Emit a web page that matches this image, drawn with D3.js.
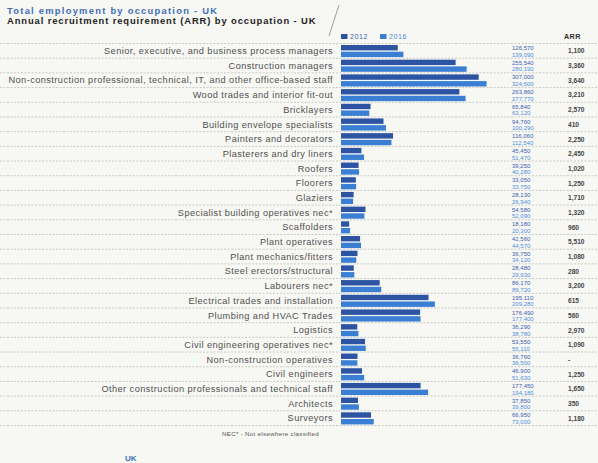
<!DOCTYPE html>
<html><head><meta charset="utf-8">
<script src="https://cdn.jsdelivr.net/npm/d3@7"></script>
<style>body{margin:0;background:#f7f7f4;} svg{display:block;font-family:"Liberation Sans",Arial,sans-serif;}</style>
</head><body>
<svg id="c" width="598" height="463"></svg>
<script>
const categories = [
  "Senior, executive, and business process managers",
  "Construction managers",
  "Non-construction professional, technical, IT, and other office-based staff",
  "Wood trades and interior fit-out",
  "Bricklayers",
  "Building envelope specialists",
  "Painters and decorators",
  "Plasterers and dry liners",
  "Roofers",
  "Floorers",
  "Glaziers",
  "Specialist building operatives nec*",
  "Scaffolders",
  "Plant operatives",
  "Plant mechanics/fitters",
  "Steel erectors/structural",
  "Labourers nec*",
  "Electrical trades and installation",
  "Plumbing and HVAC Trades",
  "Logistics",
  "Civil engineering operatives nec*",
  "Non-construction operatives",
  "Civil engineers",
  "Other construction professionals and technical staff",
  "Architects",
  "Surveyors"
];
const values2012 = [126570, 255540, 307000, 263860, 65840, 94760, 116060, 45450, 39250, 33050, 28130, 54580, 18180, 42560, 36750, 28480, 86170, 195110, 176490, 36290, 53550, 36760, 46900, 177450, 37850, 66950];
const values2016 = [139090, 280190, 324500, 277770, 63120, 100290, 112540, 51470, 40280, 33750, 26940, 52090, 20300, 44570, 34120, 29630, 89720, 209280, 177400, 38780, 55110, 36500, 51630, 194180, 39800, 73000];
const arr = ["1,100", "3,360", "3,640", "3,210", "2,570", "410", "2,250", "2,450", "1,020", "1,250", "1,710", "1,320", "960", "5,510", "1,080", "280", "3,200", "615", "560", "2,970", "1,090", "-", "1,250", "1,650", "350", "1,180"];
const seriesNames = ["2012", "2016"];

const svg = d3.select("#c");
const col2012 = "#2c54a3", col2016 = "#3a7fd4";
const lab2012 = "#3a5fb3", lab2016 = "#4d8fda";

const x = d3.scaleLinear().domain([0, 330000]).range([341, 489]);
const y = d3.scaleBand().domain(categories).range([43.5, 425.5]);
const bh = y.bandwidth();

// titles
svg.append("text").attr("x", 7).attr("y", 14).attr("font-size", 9.4).attr("letter-spacing", 1.25).attr("font-weight", "bold").attr("fill", "#3f6fb8").text("Total employment by occupation - UK");
svg.append("text").attr("x", 7).attr("y", 24).attr("font-size", 9.4).attr("letter-spacing", 0.9).attr("font-weight", "bold").attr("fill", "#222").text("Annual recruitment requirement (ARR) by occupation - UK");
svg.append("line").attr("x1", 339).attr("y1", 5).attr("x2", 329).attr("y2", 36).attr("stroke", "#777").attr("stroke-width", 0.7);

// legend
const lg = svg.append("g");
seriesNames.forEach((s, i) => {
  const lx = 341 + i * 39;
  lg.append("rect").attr("x", lx).attr("y", 34).attr("width", 6.5).attr("height", 5).attr("fill", i ? col2016 : col2012);
  lg.append("text").attr("x", lx + 9).attr("y", 39).attr("font-size", 7).attr("letter-spacing", 0.6).attr("fill", i ? lab2016 : lab2012).text(s);
});
svg.append("text").attr("x", 564).attr("y", 39).attr("font-size", 7.2).attr("letter-spacing", 0.4).attr("font-weight", "bold").attr("fill", "#333").text("ARR");

// row dashed lines
const lines = categories.map(c => y(c)).concat([y.range()[1]]);
svg.append("g").selectAll("line").data(lines).join("line")
  .attr("x1", 0).attr("x2", 598).attr("y1", d => d).attr("y2", d => d)
  .attr("stroke", "#a9a9a9").attr("stroke-width", 0.6).attr("stroke-dasharray", "2,1.5");

// labels
svg.append("g").selectAll("text").data(categories).join("text")
  .attr("x", 333).attr("y", d => y(d) + bh / 2 + 3.2)
  .attr("text-anchor", "end").attr("font-size", 9.2).attr("letter-spacing", 0.45).attr("fill", "#505050").text(d => d);

// bars
const g = svg.append("g");
g.selectAll(".b12").data(categories).join("rect")
  .attr("x", x(0)).attr("y", d => y(d) + 1.5)
  .attr("width", (d, i) => x(values2012[i]) - x(0)).attr("height", 5.4).attr("fill", col2012);
g.selectAll(".b16").data(categories).join("rect")
  .attr("x", x(0)).attr("y", d => y(d) + 8.2)
  .attr("width", (d, i) => x(values2016[i]) - x(0)).attr("height", 5.4).attr("fill", col2016);

// value labels
const fmt = d3.format(",");
svg.append("g").selectAll("text").data(categories).join("text")
  .attr("x", 512).attr("y", d => y(d) + 6.6).attr("font-size", 6).attr("fill", lab2012)
  .text((d, i) => fmt(values2012[i]));
svg.append("g").selectAll("text").data(categories).join("text")
  .attr("x", 512).attr("y", d => y(d) + 13.2).attr("font-size", 6).attr("fill", lab2016)
  .text((d, i) => fmt(values2016[i]));

// ARR
svg.append("g").selectAll("text").data(categories).join("text")
  .attr("x", 568).attr("y", d => y(d) + bh / 2 + 2.5).attr("font-size", 6.6).attr("font-weight", "bold").attr("fill", "#444")
  .text((d, i) => arr[i]);

// footnote
svg.append("text").attr("x", 222).attr("y", 436).attr("font-size", 6.2).attr("letter-spacing", 0.3).attr("fill", "#555").text("NEC* - Not elsewhere classified");
svg.append("text").attr("x", 125).attr("y", 460.5).attr("font-size", 8).attr("font-weight", "bold").attr("fill", "#3f6fb8").text("UK");
</script>
</body></html>
